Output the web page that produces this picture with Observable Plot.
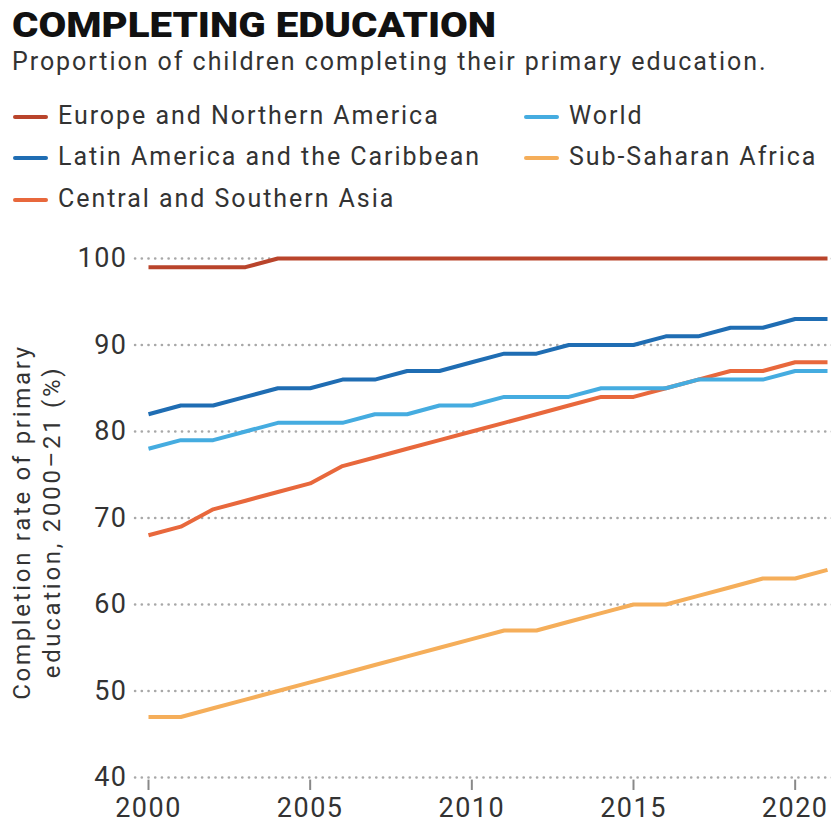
<!DOCTYPE html>
<html>
<head>
<meta charset="utf-8">
<script src="https://cdn.jsdelivr.net/npm/d3@7"></script>
<script src="https://cdn.jsdelivr.net/npm/@observablehq/plot@0.6"></script>
<style>
  html, body { margin: 0; padding: 0; background: #fff; }
  body { width: 831px; height: 823px; position: relative; overflow: hidden; font-family: Roboto, "Noto Sans", sans-serif; color: #333; }
  #title { position: absolute; left: 12px; top: 5px; font-family: Roboto, sans-serif; font-weight: 900; font-size: 35px; line-height: 41px; letter-spacing: 0px; color: #111; white-space: nowrap; transform: scaleX(1.15); transform-origin: left top; }
  #subtitle { position: absolute; left: 12px; top: 47px; font-size: 25px; letter-spacing: 1.95px; color: #333; white-space: nowrap; }
  .leg { position: absolute; font-size: 25px; letter-spacing: 1.95px; color: #333; white-space: nowrap; }
  .sw { position: absolute; width: 35px; height: 4px; border-radius: 2px; }
  #chart { position: absolute; left: 0; top: 225px; }
</style>
</head>
<body>
<div id="title">COMPLETING EDUCATION</div>
<div id="subtitle">Proportion of children completing their primary education.</div>
<div id="legend"></div>
<div id="chart"></div>
<script>
const years = d3.range(2000, 2022);
const seriesNames = [
  "Europe and Northern America",
  "Latin America and the Caribbean",
  "Central and Southern Asia",
  "World",
  "Sub-Saharan Africa"
];
const seriesColors = ["#b9442b", "#1f6db3", "#e8683c", "#45ace0", "#f5ae5a"];
const europe   = [99,99,99,99,100,100,100,100,100,100,100,100,100,100,100,100,100,100,100,100,100,100];
const latam    = [82,83,83,84,85,85,86,86,87,87,88,89,89,90,90,90,91,91,92,92,93,93];
const csAsia   = [68,69,71,72,73,74,76,77,78,79,80,81,82,83,84,84,85,86,87,87,88,88];
const world    = [78,79,79,80,81,81,81,82,82,83,83,84,84,84,85,85,85,86,86,86,87,87];
const ssAfrica = [47,47,48,49,50,51,52,53,54,55,56,57,57,58,59,60,60,61,62,63,63,64];
const yTicks = [40, 50, 60, 70, 80, 90, 100];
const xTicks = [2000, 2005, 2010, 2015, 2020];
const yTitle = ["Completion rate of primary", "education, 2000–21 (%)"];

const allValues = [europe, latam, csAsia, world, ssAfrica];
const data = [];
seriesNames.forEach((name, i) => {
  years.forEach((yr, j) => data.push({year: yr, value: allValues[i][j], series: name}));
});

// Legend
const legend = document.getElementById("legend");
const legPos = [
  {x: 13, y: 117}, {x: 13, y: 158}, {x: 13, y: 200},
  {x: 524, y: 117}, {x: 524, y: 158}
];
seriesNames.forEach((name, i) => {
  const p = legPos[i];
  const sw = document.createElement("div");
  sw.className = "sw";
  sw.style.left = p.x + "px";
  sw.style.top = (p.y - 2) + "px";
  sw.style.background = seriesColors[i];
  legend.appendChild(sw);
  const t = document.createElement("div");
  t.className = "leg";
  t.style.left = (p.x + 45) + "px";
  t.style.top = (p.y - 16) + "px";
  t.textContent = name;
  legend.appendChild(t);
});

const chart = Plot.plot({
  width: 831,
  height: 598,
  marginTop: 33,
  marginBottom: 46,
  marginLeft: 148,
  marginRight: 4,
  style: {fontFamily: "Roboto, 'Noto Sans', sans-serif", color: "#333", background: "#fff", overflow: "visible"},
  x: {domain: [2000, 2021], axis: null},
  y: {domain: [40, 100], axis: null},
  color: {domain: seriesNames, range: seriesColors},
  marks: [
    Plot.ruleY(yTicks, {x1: 1999.6, x2: 2021.2, stroke: "#a8a8a8", strokeWidth: 2.6, strokeDasharray: "0.1,6.6", strokeLinecap: "round"}),
    Plot.text(yTicks, {x: 2000, y: d => d, text: d => String(d), textAnchor: "end", dx: -21, fontSize: 27, fill: "#333", className: "tick-label"}),
    Plot.ruleX(xTicks, {x: d => d, y1: 38.5, y2: 39.7, stroke: "#888", strokeWidth: 2}),
    Plot.text(xTicks, {x: d => d, y: 40, text: d => String(d), dy: 31, fontSize: 27, fill: "#333", className: "tick-label"}),
    Plot.line(data, {x: "year", y: "value", z: "series", stroke: "series", strokeWidth: 4, strokeLinejoin: "round", strokeLinecap: "butt"}),
    Plot.text(yTitle, {
      frameAnchor: "left", textAnchor: "middle", text: d => d, rotate: -90, fontSize: 24, fill: "#333",
      dy: 4, className: "y-title"
    })
  ]
});
document.getElementById("chart").appendChild(chart);

const svg = d3.select(chart);
svg.selectAll(".tick-label text").attr("letter-spacing", 1.5);
svg.selectAll(".y-title text").attr("letter-spacing", 2.7);

// offset the two y-title lines horizontally
svg.selectAll("text").filter(function() { return yTitle.includes(this.textContent); })
  .each(function() {
    const el = d3.select(this);
    const t = el.attr("transform") || "";
    const m = /translate\(([-\d.]+),([-\d.]+)\)/.exec(t);
    if (m) {
      const off = this.textContent === yTitle[0] ? -126 : -96;
      el.attr("transform", t.replace(m[0], `translate(${+m[1] + off},${m[2]})`));
    }
  });
</script>
</body>
</html>
